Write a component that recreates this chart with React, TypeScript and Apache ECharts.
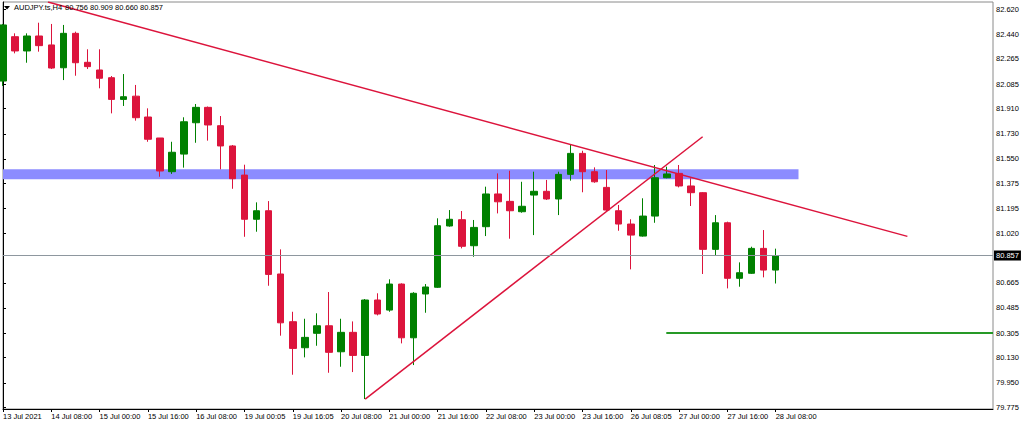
import React, { useEffect, useRef } from "react";
import * as echarts from "echarts";

// ---- data (AUDJPY H4) ----
const opens = [82.107, 82.424, 82.322, 82.429, 82.365, 82.202, 82.448, 82.241, 82.186, 82.131,
  81.976, 81.999, 81.850, 81.700, 81.459, 81.585, 81.809, 81.919, 81.788, 81.643,
  81.435, 81.119, 81.180, 80.728, 80.387, 80.201, 80.304, 80.358, 80.172, 80.311,
  80.146, 80.542, 80.470, 80.656, 80.272, 80.585, 80.633, 81.071, 81.116, 80.930,
  81.066, 81.300, 81.247, 81.173, 81.292, 81.319, 81.264, 81.440, 81.590, 81.459,
  81.347, 81.180, 81.085, 80.999, 81.142, 81.416, 81.447, 81.357, 81.309, 80.904,
  81.094, 80.697, 80.733, 80.911, 80.756];
const highs = [82.515, 82.448, 82.448, 82.524, 82.515, 82.508, 82.460, 82.334, 82.334, 82.143,
  82.157, 82.079, 81.912, 81.700, 81.673, 81.848, 81.943, 81.925, 81.857, 81.650,
  81.509, 81.240, 81.249, 80.904, 80.458, 80.408, 80.447, 80.599, 80.408, 80.389,
  80.549, 80.590, 80.690, 80.661, 80.598, 80.656, 81.126, 81.185, 81.178, 81.114,
  81.352, 81.447, 81.466, 81.387, 81.459, 81.400, 81.459, 81.650, 81.609, 81.490,
  81.471, 81.221, 81.119, 81.269, 81.507, 81.495, 81.507, 81.412, 81.313, 81.149,
  81.102, 80.811, 80.923, 81.042, 80.909];
const lows = [82.072, 82.305, 82.238, 82.317, 82.193, 82.114, 82.145, 82.193, 82.055, 81.876,
  81.929, 81.824, 81.673, 81.423, 81.443, 81.488, 81.666, 81.681, 81.476, 81.337,
  80.994, 81.030, 80.644, 80.287, 80.008, 80.132, 80.215, 80.022, 80.065, 80.027,
  79.834, 80.432, 80.458, 80.232, 80.077, 80.451, 80.628, 81.066, 80.911, 80.851,
  80.999, 81.161, 80.980, 81.166, 81.006, 81.257, 81.149, 81.395, 81.312, 81.380,
  81.171, 81.037, 80.761, 80.995, 81.094, 81.412, 81.347, 81.214, 80.728, 80.861,
  80.625, 80.637, 80.728, 80.704, 80.660];
const closes = [82.508, 82.322, 82.429, 82.360, 82.200, 82.448, 82.238, 82.210, 82.127, 81.976,
  81.995, 81.845, 81.691, 81.464, 81.598, 81.816, 81.919, 81.793, 81.643, 81.409,
  81.119, 81.180, 80.725, 80.379, 80.196, 80.275, 80.358, 80.168, 80.311, 80.146,
  80.542, 80.442, 80.656, 80.272, 80.590, 80.635, 81.073, 81.119, 80.926, 81.061,
  81.300, 81.244, 81.180, 81.212, 81.319, 81.264, 81.440, 81.590, 81.459, 81.387,
  81.185, 81.085, 81.006, 81.142, 81.416, 81.443, 81.357, 81.309, 80.904, 81.094,
  80.697, 80.737, 80.911, 80.756, 80.857];

// x tick labels, one every 4 bars
const xTickLabels = ["13 Jul 2021", "14 Jul 08:00", "15 Jul 00:00", "15 Jul 16:00", "16 Jul 08:00",
  "19 Jul 00:05", "19 Jul 16:05", "20 Jul 08:00", "21 Jul 00:00", "21 Jul 16:00", "22 Jul 08:00",
  "23 Jul 00:00", "23 Jul 16:00", "26 Jul 08:05", "27 Jul 00:00", "27 Jul 16:00", "28 Jul 08:00"];
const yTickLabels = [82.620, 82.440, 82.265, 82.085, 81.910, 81.730, 81.550, 81.375, 81.195,
  81.020, 80.665, 80.485, 80.305, 80.130, 79.950, 79.775];

// drawn objects
const downTrend = [[3.72, 82.672], [74.91, 80.997]];
const upTrend = [[30, 79.834], [57.95, 81.709]];
const resistanceBand = { from: 0, to: 65.89, top: 81.476, bottom: 81.405 };
const supportLine = [[54.94, 80.307], [82, 80.307]];
const lastPrice = 80.857;
const headerSymbol = "AUDJPY.ts,H4";
const headerValues = "80.756 80.909 80.660 80.857";

const SLOTS = 83;
const categories = Array.from({ length: SLOTS }, (_, i) => String(i));
const FONT = "'Liberation Sans', Arial, sans-serif";

export default function App() {
  const ref = useRef<HTMLDivElement>(null);
  useEffect(() => {
    if (!ref.current) return;
    const chart = echarts.init(ref.current, undefined, { renderer: "svg" });
    const candleData = opens.map((o, i) => [o, closes[i], lows[i], highs[i]]);
    const showIdx = (idx: number) => idx % 4 === 0 && idx / 4 < xTickLabels.length;
    chart.setOption({
      animation: false,
      backgroundColor: "#ffffff",
      grid: { left: 2, right: 31, top: 2, bottom: 16, show: true, borderColor: "#8a8a8a", borderWidth: 1 },
      xAxis: [
        {
          type: "category",
          data: categories,
          boundaryGap: false,
          axisLine: { lineStyle: { color: "#000", width: 1 } },
          axisTick: { interval: (idx: number) => showIdx(idx), length: 3, lineStyle: { color: "#000" } },
          axisLabel: {
            interval: (idx: number) => showIdx(idx),
            formatter: (_v: string, idx: number) => xTickLabels[idx / 4] ?? "",
            align: "left",
            margin: 3,
            fontSize: 7.5,
            color: "#000",
            fontFamily: FONT,
          },
          splitLine: { show: false },
        },
        { type: "value", min: 0, max: SLOTS - 1, show: false },
      ],
      yAxis: {
        type: "value",
        position: "right",
        min: 79.763,
        max: 82.672,
        axisLine: { show: true, lineStyle: { color: "#000" } },
        axisTick: { show: true, length: 3, customValues: yTickLabels, lineStyle: { color: "#000" } },
        axisLabel: {
          customValues: yTickLabels,
          formatter: (v: number) => v.toFixed(3),
          margin: 3,
          fontSize: 7.5,
          color: "#000",
          fontFamily: FONT,
        },
        splitLine: { show: false },
      },
      series: [
        {
          type: "line",
          xAxisIndex: 1,
          data: supportLine,
          symbol: "none",
          z: 1,
          lineStyle: { color: "#269926", width: 2 },
          markArea: {
            silent: true,
            itemStyle: { color: "#8c8cff", opacity: 1 },
            data: [[
              { coord: [resistanceBand.from, resistanceBand.top] },
              { coord: [resistanceBand.to, resistanceBand.bottom] },
            ]],
          },
        },
        {
          type: "candlestick",
          xAxisIndex: 0,
          data: candleData,
          barWidth: 7,
          z: 2,
          itemStyle: {
            color: "#008000",
            color0: "#dc143c",
            borderColor: "#008000",
            borderColor0: "#dc143c",
            borderWidth: 1,
          },
          markLine: {
            silent: true,
            symbol: "none",
            lineStyle: { color: "#8e979f", width: 1, type: "solid" },
            label: {
              position: "end",
              distance: 1,
              formatter: lastPrice.toFixed(3),
              backgroundColor: "#000",
              color: "#fff",
              padding: [1, 2, 1, 2],
              fontSize: 7.5,
              fontFamily: FONT,
            },
            data: [{ yAxis: lastPrice }],
          },
        },
        {
          type: "line",
          xAxisIndex: 1,
          data: downTrend,
          symbol: "none",
          z: 3,
          lineStyle: { color: "#dc143c", width: 1.5 },
        },
        {
          type: "line",
          xAxisIndex: 1,
          data: upTrend,
          symbol: "none",
          z: 3,
          lineStyle: { color: "#dc143c", width: 1.5 },
        },
      ],
      graphic: [
        { type: "polygon", shape: { points: [[4, 6], [10, 6], [7, 9.5]] }, style: { fill: "#000" }, z: 10 },
        { type: "text", x: 14, y: 3, style: { text: headerSymbol, fill: "#000", fontSize: 7.5, fontFamily: FONT }, z: 10 },
        { type: "text", x: 65, y: 3, style: { text: headerValues, fill: "#000", fontSize: 7.5, fontFamily: FONT }, z: 10 },
      ],
    });
    return () => chart.dispose();
  }, []);
  return (
    <div
      ref={ref}
      style={{ position: "fixed", left: 0, top: 0, width: 1024, height: 425, background: "#fff" }}
    />
  );
}
